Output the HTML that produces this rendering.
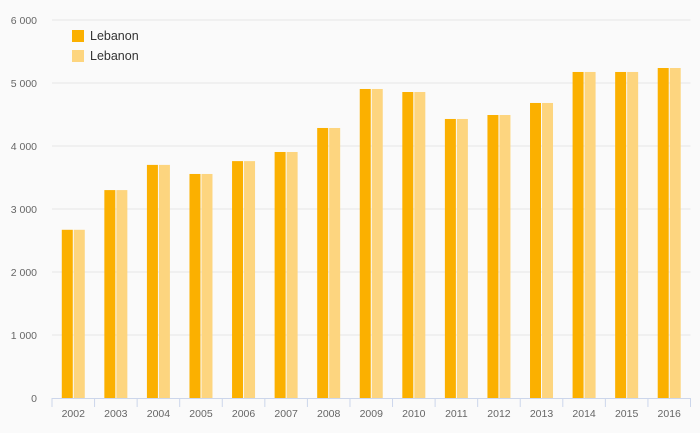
<!DOCTYPE html>
<html><head><meta charset="utf-8"><style>
body{margin:0;background:#fafafa;}
svg{display:block;font-family:"Liberation Sans",sans-serif;}
</style></head><body>
<svg id="chart" width="700" height="433">
<rect width="700" height="433" fill="#fafafa"/>
<g id="grid"></g><g id="bars"></g><g id="axis"></g>
<g>
<rect x="72" y="30" width="12" height="12" fill="#fbb000"/>
<text x="90" y="40" font-size="12.5" fill="#333">Lebanon</text>
<rect x="72" y="50" width="12" height="12" fill="#fdd57f"/>
<text x="90" y="60" font-size="12.5" fill="#333">Lebanon</text>
</g>
</svg>
<script>
const categories=["2002","2003","2004","2005","2006","2007","2008","2009","2010","2011","2012","2013","2014","2015","2016"];
const series1=[2670,3300,3700,3556,3760,3905,4286,4905,4857,4429,4492,4683,5175,5175,5238];
const series2=[2670,3300,3700,3556,3760,3905,4286,4905,4857,4429,4492,4683,5175,5175,5238];
const yTicks=[0,1000,2000,3000,4000,5000,6000];
const yTickLabels=["0","1 000","2 000","3 000","4 000","5 000","6 000"];
const NS="http://www.w3.org/2000/svg";
const x0=52,x1=690.5,y0=398,yTop=20,yMax=6000;
const step=(x1-x0)/categories.length;
const y=v=>y0-(v/yMax)*(y0-yTop);
const xc=i=>x0+step*(i+0.5);
function mk(tag,attrs,parent){const e=document.createElementNS(NS,tag);for(const k in attrs)e.setAttribute(k,attrs[k]);parent.appendChild(e);return e;}
const grid=document.getElementById('grid'),bars=document.getElementById('bars'),axis=document.getElementById('axis');
yTicks.forEach((t,i)=>{
  if(t>0){const l=mk('line',{x1:x0,x2:x1,y1:y(t),y2:y(t),stroke:'#e6e6e6','stroke-width':1},grid);
  
  }
  const tx=mk('text',{x:37,y:y(t)+4,'text-anchor':'end','font-size':10.5,fill:'#666'},axis);
  tx.textContent=yTickLabels[i];
  
  
});
const al=mk('line',{x1:x0,x2:x1,y1:y0+0.5,y2:y0+0.5,stroke:'#ccd6eb','stroke-width':1},axis);


for(let i=0;i<=categories.length;i++){
  const tk=mk('line',{x1:x0+step*i,x2:x0+step*i,y1:y0,y2:y0+9,stroke:'#ccd6eb','stroke-width':1},axis);
  
  
}
categories.forEach((c,i)=>{
  const b1=mk('rect',{x:xc(i)-11.5,y:y(series1[i]),width:11,height:y0-y(series1[i]),fill:'#fbb000'},bars);
  
  
  const b2=mk('rect',{x:xc(i)+0.5,y:y(series2[i]),width:11,height:y0-y(series2[i]),fill:'#fdd57f'},bars);
  
  
  const t=mk('text',{x:xc(i),y:417,'text-anchor':'middle','font-size':10.5,fill:'#666'},axis);
  t.textContent=c;
  
  
});
</script>
</body></html>
